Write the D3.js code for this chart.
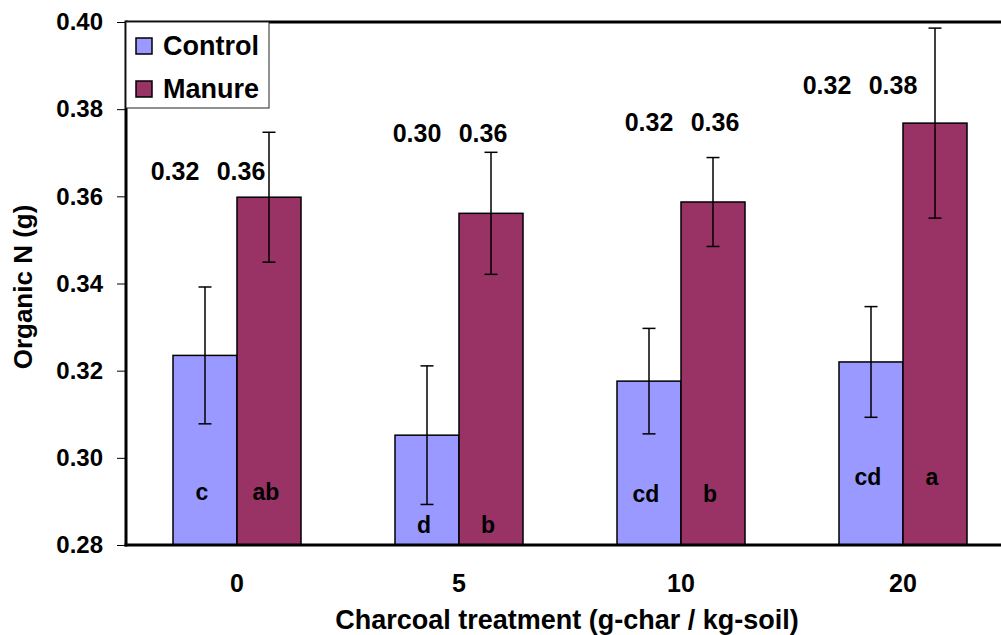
<!DOCTYPE html>
<html>
<head>
<meta charset="utf-8">
<script src="https://cdn.jsdelivr.net/npm/d3@7"></script>
<style>
  html, body { margin: 0; padding: 0; background: #fff; }
  svg { display: block; font-family: "Liberation Sans", Arial, sans-serif; font-weight: bold; }
</style>
</head>
<body>
<svg id="chart" width="1001" height="635"></svg>
<script>
// Charcoal treatments (g-char / kg-soil)
const categories = ["0", "5", "10", "20"];
const seriesNames = ["Control", "Manure"];

// Mean organic N (g) per treatment
const controlValues = [0.3235, 0.3052, 0.3176, 0.3220];
const manureValues  = [0.3598, 0.3561, 0.3587, 0.3768];

// Error bar half-widths
const controlErrors = [0.0157, 0.0159, 0.0121, 0.0127];
const manureErrors  = [0.0149, 0.0140, 0.0102, 0.0218];

// Rounded means printed above each pair
const controlLabels = ["0.32", "0.30", "0.32", "0.32"];
const manureLabels  = ["0.36", "0.36", "0.36", "0.38"];

// Significance letters
const controlLetters = ["c", "d", "cd", "cd"];
const manureLetters  = ["ab", "b", "b", "a"];

// Y tick values
const yTicks = [0.28, 0.30, 0.32, 0.34, 0.36, 0.38, 0.40];

// Annotation placement (value units for height, pixels for shift)
const pairLabelLevel = [0.3658, 0.3745, 0.3770, 0.3855];
const pairLabelShift = [-28, -8, 2, -42];
const letterLevel    = [0.2922, 0.2846, 0.2917, 0.2956];

const colors = { Control: "#9999FF", Manure: "#993366" };

const svg = d3.select("#chart");
const plotLeft = 126, plotRight = 1014, plotTop = 22, plotBottom = 545;

const x = d3.scaleBand().domain(categories).range([plotLeft, plotRight]).padding(0);
const xs = d3.scaleBand().domain(seriesNames).range([47, 175]).padding(0);
const y = d3.scaleLinear().domain([0.28, 0.40]).range([plotBottom, plotTop]);

const rows = categories.map((c, i) => ({
  cat: c, i,
  bars: [
    { s: "Control", v: controlValues[i], e: controlErrors[i], letter: controlLetters[i], label: controlLabels[i] },
    { s: "Manure",  v: manureValues[i],  e: manureErrors[i],  letter: manureLetters[i],  label: manureLabels[i] }
  ]
}));

// Plot frame top line
svg.append("line")
  .attr("x1", plotLeft).attr("x2", 1001).attr("y1", plotTop).attr("y2", plotTop)
  .attr("stroke", "#000").attr("stroke-width", 3);

// Bars
const g = svg.append("g").selectAll("g").data(rows).join("g")
  .attr("transform", d => `translate(${x(d.cat)},0)`);

g.selectAll("rect").data(d => d.bars).join("rect")
  .attr("x", d => xs(d.s))
  .attr("y", d => y(d.v))
  .attr("width", xs.bandwidth())
  .attr("height", d => plotBottom - y(d.v))
  .attr("fill", d => colors[d.s])
  .attr("stroke", "#000").attr("stroke-width", 1.5);

// Error bars
const eb = g.selectAll("g.err").data(d => d.bars).join("g").attr("class", "err")
  .attr("stroke", "#000").attr("stroke-width", 1.5);
const cx = d => xs(d.s) + xs.bandwidth() / 2;
eb.append("line")
  .attr("x1", cx).attr("x2", cx)
  .attr("y1", d => y(d.v + d.e)).attr("y2", d => y(d.v - d.e));
eb.append("line")
  .attr("x1", d => cx(d) - 6.5).attr("x2", d => cx(d) + 6.5)
  .attr("y1", d => y(d.v + d.e)).attr("y2", d => y(d.v + d.e));
eb.append("line")
  .attr("x1", d => cx(d) - 6.5).attr("x2", d => cx(d) + 6.5)
  .attr("y1", d => y(d.v - d.e)).attr("y2", d => y(d.v - d.e));

// Significance letters inside bars
g.selectAll("text.letter").data(d => d.bars.map(b => ({ ...b, i: d.i }))).join("text")
  .attr("class", "letter")
  .attr("x", d => cx(d) - 3)
  .attr("y", d => y(letterLevel[d.i]))
  .attr("dy", "0.35em")
  .attr("text-anchor", "middle")
  .attr("font-size", 23)
  .text(d => d.letter);

// Rounded means above each pair
g.selectAll("text.mean").data(d => d.bars.map(b => ({ ...b, i: d.i }))).join("text")
  .attr("class", "mean")
  .attr("x", d => cx(d) + pairLabelShift[d.i] - (d.s === "Control" ? 2 : 0))
  .attr("y", d => y(pairLabelLevel[d.i]))
  .attr("dy", "0.35em")
  .attr("text-anchor", "middle")
  .attr("font-size", 25)
  .text(d => d.label);

// Y axis
const yAxis = svg.append("g").attr("transform", `translate(${plotLeft},0)`)
  .call(d3.axisLeft(y).tickValues(yTicks).tickFormat(d3.format(".2f")).tickSize(9).tickPadding(14));
yAxis.select(".domain").remove();
yAxis.selectAll(".tick line").attr("stroke", "#000").attr("stroke-width", 1);
yAxis.selectAll(".tick text").attr("font-size", 24).attr("font-family", "Liberation Sans, Arial, sans-serif")
  .attr("font-weight", "bold").attr("fill", "#000");
svg.append("line").attr("x1", plotLeft).attr("x2", plotLeft).attr("y1", plotTop - 1.5).attr("y2", plotBottom + 1.5)
  .attr("stroke", "#000").attr("stroke-width", 3);

// X axis
const xAxis = svg.append("g").attr("transform", `translate(0,${plotBottom})`)
  .call(d3.axisBottom(x).tickSize(0).tickPadding(29));
xAxis.select(".domain").remove();
xAxis.selectAll(".tick text").attr("font-size", 25).attr("font-family", "Liberation Sans, Arial, sans-serif")
  .attr("font-weight", "bold").attr("fill", "#000");
svg.append("line").attr("x1", plotLeft - 1.5).attr("x2", 1001).attr("y1", plotBottom).attr("y2", plotBottom)
  .attr("stroke", "#000").attr("stroke-width", 3);

// Axis titles
svg.append("text")
  .attr("x", 567).attr("y", 620).attr("dy", "0.35em")
  .attr("text-anchor", "middle").attr("font-size", 27)
  .text("Charcoal treatment (g-char / kg-soil)");
svg.append("text")
  .attr("transform", "translate(23,287) rotate(-90)")
  .attr("dy", "0.35em")
  .attr("text-anchor", "middle").attr("font-size", 26)
  .text("Organic N (g)");

// Legend
const legend = svg.append("g");
legend.append("rect")
  .attr("x", 126).attr("y", 22).attr("width", 143).attr("height", 86)
  .attr("fill", "#fff").attr("stroke", "#222").attr("stroke-width", 1);
const li = legend.selectAll("g.item").data(seriesNames).join("g").attr("class", "item")
  .attr("transform", (d, i) => `translate(136,${38 + i * 43})`);
li.append("rect").attr("width", 16).attr("height", 16)
  .attr("fill", d => colors[d]).attr("stroke", "#000").attr("stroke-width", 1.5);
li.append("text").attr("x", 27).attr("y", 8).attr("dy", "0.35em")
  .attr("font-size", 27).text(d => d);
</script>
</body>
</html>
